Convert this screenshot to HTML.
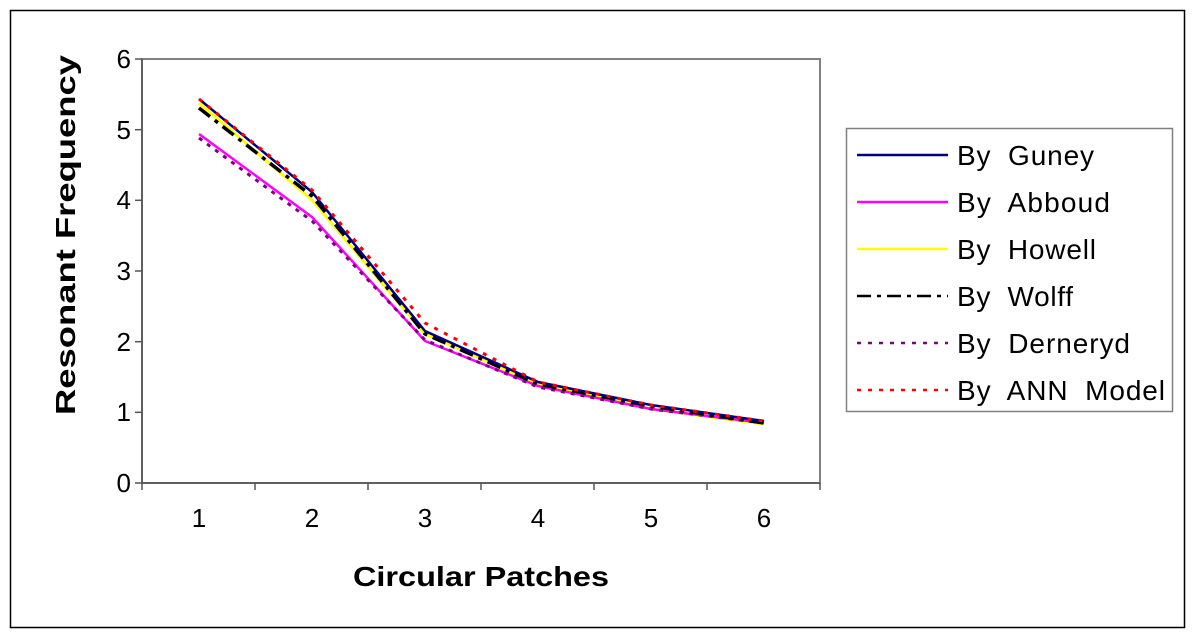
<!DOCTYPE html>
<html><head><style>body{margin:0;background:#fff}svg{display:block}text{font-family:"Liberation Sans",Arial,sans-serif}</style></head>
<body>
<svg width="1195" height="640" viewBox="0 0 1195 640" xmlns="http://www.w3.org/2000/svg">
<rect x="10.5" y="10.5" width="1174" height="617" fill="#fff" stroke="#000" stroke-width="1.5"/>
<rect x="142" y="59" width="678" height="424" fill="#fff" stroke="#808080" stroke-width="2"/>
<g stroke="#555" stroke-width="1.5">
<line x1="142" y1="59" x2="142" y2="483"/><line x1="142" y1="483" x2="820" y2="483"/>
<line x1="135" y1="59" x2="142" y2="59"/><line x1="135" y1="129.7" x2="142" y2="129.7"/><line x1="135" y1="200.3" x2="142" y2="200.3"/><line x1="135" y1="271" x2="142" y2="271"/><line x1="135" y1="341.7" x2="142" y2="341.7"/><line x1="135" y1="412.3" x2="142" y2="412.3"/><line x1="135" y1="483" x2="142" y2="483"/>
<line x1="142" y1="483" x2="142" y2="490"/><line x1="255" y1="483" x2="255" y2="490"/><line x1="368" y1="483" x2="368" y2="490"/><line x1="481" y1="483" x2="481" y2="490"/><line x1="594" y1="483" x2="594" y2="490"/><line x1="707" y1="483" x2="707" y2="490"/><line x1="820" y1="483" x2="820" y2="490"/>
</g>
<g font-size="26" text-anchor="end" fill="#000">
<text x="131" y="68">6</text><text x="131" y="139">5</text><text x="131" y="209">4</text><text x="131" y="280">3</text><text x="131" y="351">2</text><text x="131" y="421">1</text><text x="131" y="492">0</text>
</g>
<g font-size="26" text-anchor="middle" fill="#000">
<text x="199" y="527">1</text><text x="312" y="527">2</text><text x="425" y="527">3</text><text x="538" y="527">4</text><text x="651" y="527">5</text><text x="764" y="527">6</text>
</g>
<text x="353" y="586" font-size="28" font-weight="bold" textLength="256" lengthAdjust="spacingAndGlyphs">Circular Patches</text>
<text transform="translate(75,415) rotate(-90)" font-size="28" font-weight="bold" textLength="360" lengthAdjust="spacingAndGlyphs">Resonant Frequency</text>
<g fill="none" stroke-width="2.5">
<polyline stroke="#ffff00" stroke-width="3" points="199,103 312,200 425,334 538,384 651,409 764,424"/>
<polyline stroke="#ff00ff" points="199,134 312,217 425,341 538,386 651,409 764,423"/>
<polyline stroke="#800080" stroke-dasharray="4,6" stroke-width="3" points="199,138 312,221 425,340 538,387 651,409 764,423"/>
<polyline stroke="#000" stroke-dasharray="14,6,4,6" stroke-width="3.5" points="199,108 312,196 425,334 538,384 651,406 764,423"/>
<polyline stroke="#000080" points="199,99 312,192 425,331 538,382 651,405 764,421"/>
<polyline stroke="#ff0000" stroke-dasharray="4,7" stroke-width="3" points="199,99 312,190 425,323 538,382 651,405 764,421"/>
</g>
<rect x="846.5" y="128.5" width="326" height="283" fill="#fff" stroke="#808080" stroke-width="1.5"/>
<g stroke-width="2.5">
<line x1="857" y1="155" x2="948" y2="155" stroke="#000080"/>
<line x1="857" y1="202" x2="948" y2="202" stroke="#ff00ff"/>
<line x1="857" y1="249" x2="948" y2="249" stroke="#ffff00"/>
<line x1="857" y1="296" x2="948" y2="296" stroke="#000" stroke-dasharray="14,6,4,6"/>
<line x1="857" y1="343" x2="948" y2="343" stroke="#800080" stroke-dasharray="4,7"/>
<line x1="857" y1="390" x2="948" y2="390" stroke="#ff0000" stroke-dasharray="4,7"/>
</g>
<g font-size="28" fill="#000" word-spacing="8" lengthAdjust="spacingAndGlyphs">
<text x="957" y="165" textLength="137">By Guney</text>
<text x="957" y="212" textLength="153">By Abboud</text>
<text x="957" y="259" textLength="139">By Howell</text>
<text x="957" y="306" textLength="116">By Wolff</text>
<text x="957" y="353" textLength="173">By Derneryd</text>
<text x="957" y="400" textLength="208">By ANN Model</text>
</g>
</svg>
</body></html>
